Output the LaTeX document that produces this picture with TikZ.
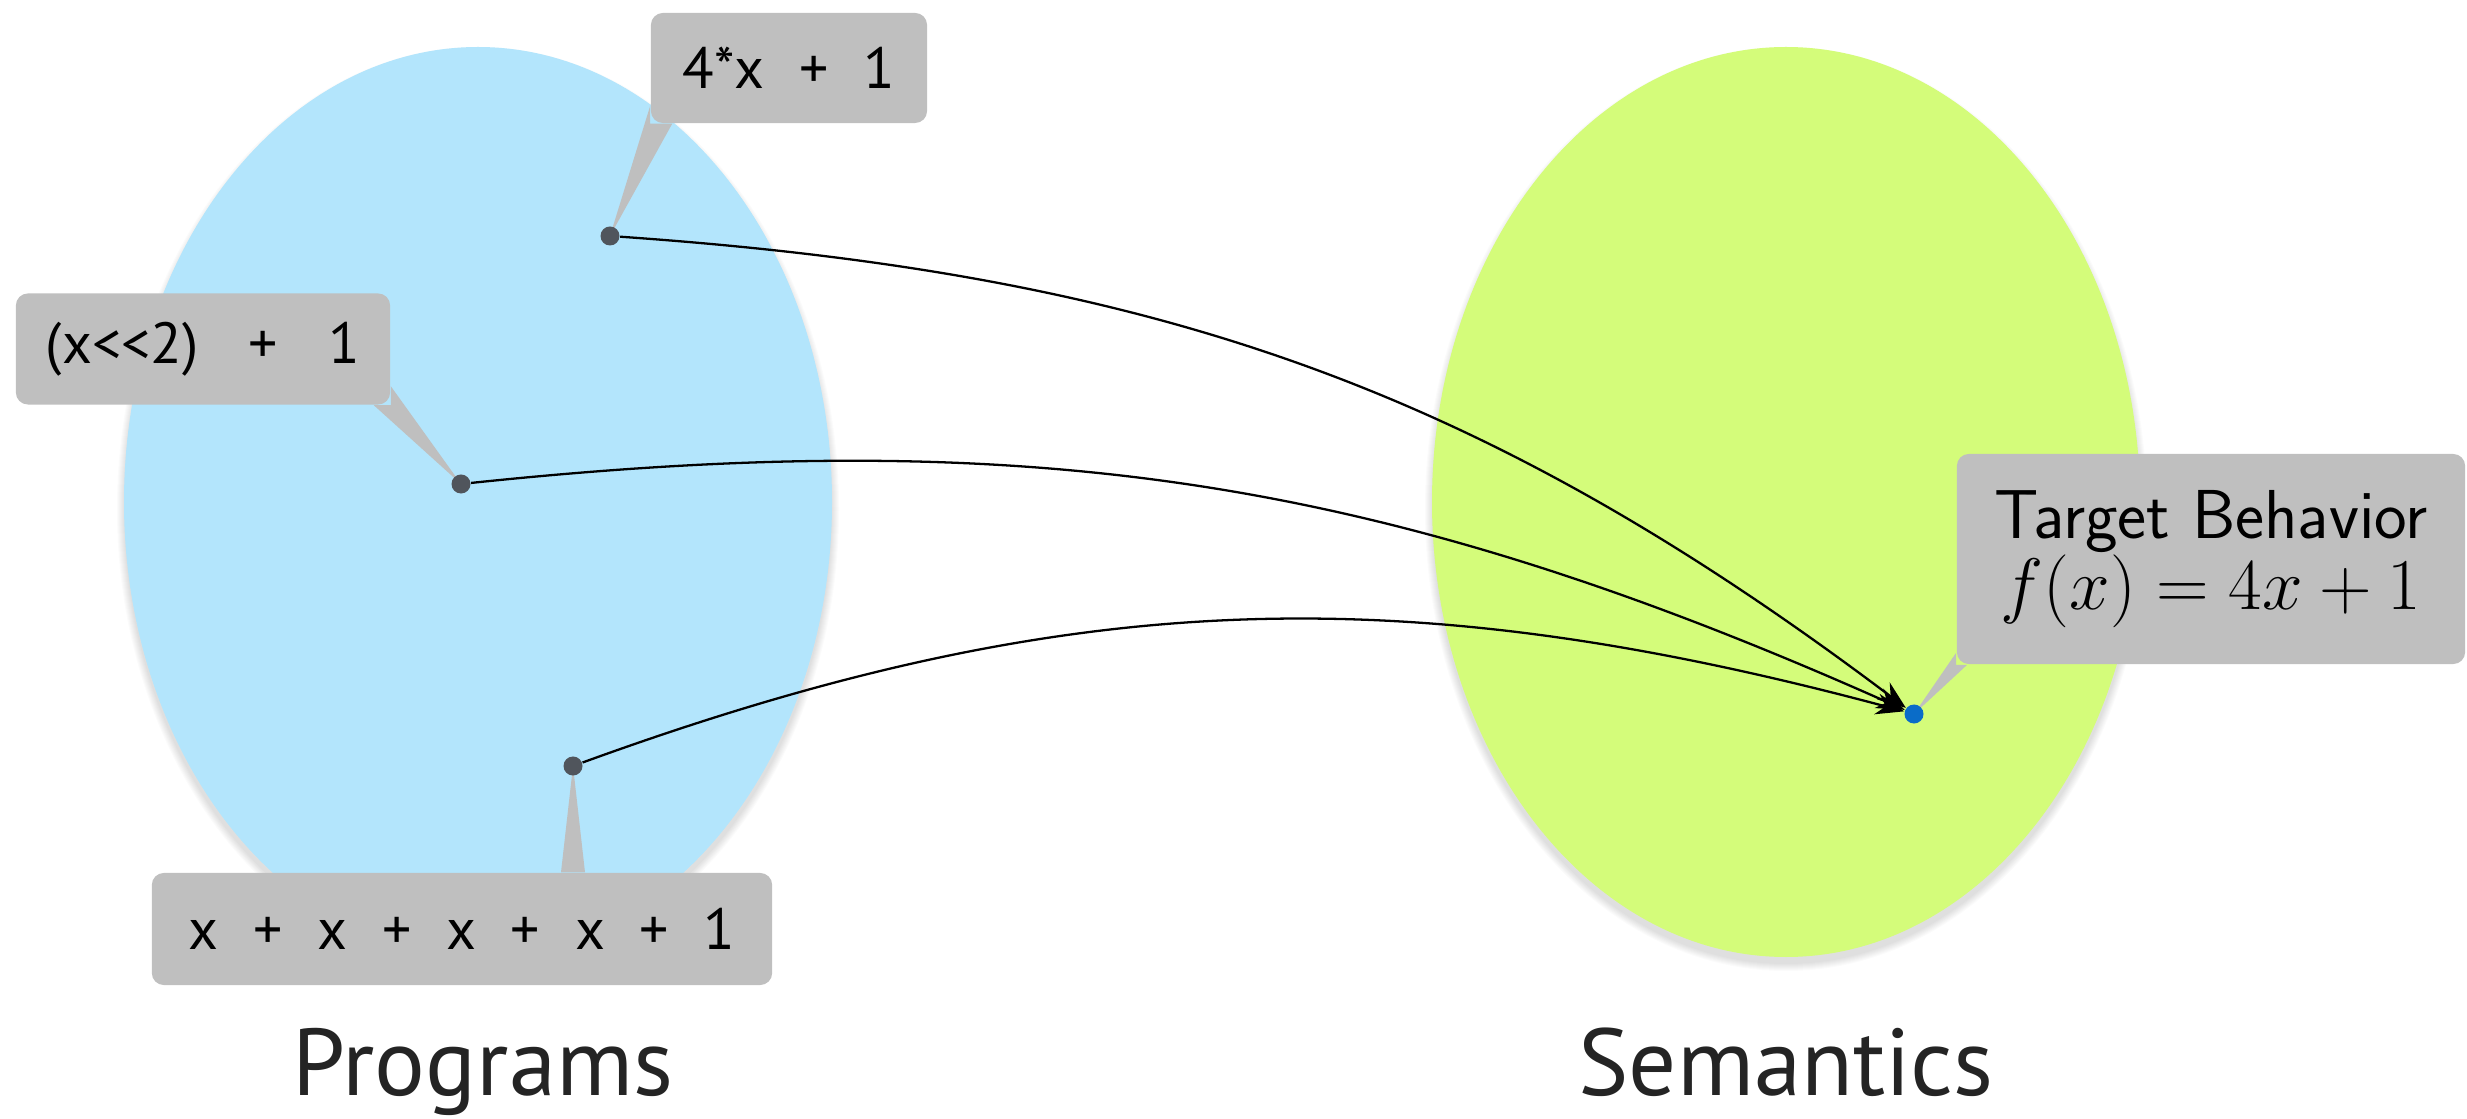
\documentclass[tikz,border=0pt]{standalone}
\usepackage{fontspec}
\newfontfamily\labelfont{PT Sans}
\usetikzlibrary{arrows.meta,calc}

\definecolor{progblue}{HTML}{B3E5FC}
\definecolor{semgreen}{HTML}{D4FC7A}
\definecolor{calloutgray}{HTML}{BFBFBF}
\definecolor{dotgray}{HTML}{50555C}
\definecolor{targetblue}{HTML}{0A6CC8}

\newcommand{\gap}{\hspace{0.6em}}

\tikzset{
  callout/.style={fill=calloutgray, rounded corners=0.12cm, inner sep=0pt,
    font=\labelfont\fontsize{16.5}{19}\selectfont},
  spot/.style={circle, fill=dotgray, inner sep=0pt, minimum size=0.19cm},
  link/.style={-{Stealth[length=8pt,width=6pt]}, line width=0.65pt},
  setlabel/.style={font=\labelfont\fontsize{27}{30}\selectfont, text=black!86, anchor=base}
}

\begin{document}
\begin{tikzpicture}[x=0.01cm,y=-0.01cm]
  \useasboundingbox (0,0) rectangle (2467,1119);

  % the two sets, each with a soft shadow
  \foreach \s in {1,...,8} {
    \fill[black,opacity=0.014] (478,509) ellipse [x radius=353+\s, y radius=454+\s];
    \fill[black,opacity=0.014] (1786,509) ellipse [x radius=353+\s, y radius=454+\s];
  }
  \fill[progblue] (478,502) ellipse [x radius=354, y radius=455];
  \fill[semgreen] (1786,502) ellipse [x radius=354, y radius=455];

  \coordinate (p4x) at (610,236);
  \coordinate (pshift) at (461,484);
  \coordinate (psum) at (573,766);
  \coordinate (ptarget) at (1914,714);

  % callouts
  \node[callout, minimum width=2.76cm, minimum height=1.10cm] (c4x) at (789,68) {4*x\gap+\gap1};
  \fill[calloutgray] (c4x.south west) -- ++(0,-18) -- (p4x) -- ($(c4x.south west)+(22,0)$) -- cycle;

  \node[callout, minimum width=3.74cm, minimum height=1.11cm] (cshift) at (203,349) {(x{<}{<}2)\gap\ +\gap\ 1};
  \fill[calloutgray] (cshift.south east) -- ++(0,-19) -- (pshift) -- ($(cshift.south east)+(-17,0)$) -- cycle;

  \node[callout, minimum width=6.20cm, minimum height=1.12cm] (csum) at (462,929) {x\gap+\gap x\gap+\gap x\gap+\gap x\gap+\gap1};
  \fill[calloutgray] ($(csum.north)+(99,0)$) -- (psum) -- ($(csum.north)+(123,0)$) -- cycle;

  \node[callout, minimum width=5.08cm, minimum height=2.10cm, align=center,
    font=\sffamily\fontsize{19.7}{22}\selectfont] (ctarget) at (2211,559)
    {Target Behavior\\[-2pt]{\fontsize{20}{22}\selectfont$f(x) = 4x + 1$}};
  \fill[calloutgray] (ctarget.south west) -- ++(0,-12) -- (ptarget) -- ($(ctarget.south west)+(11,0)$) -- cycle;

  % programs and the behavior they share
  \node[spot] (d4x) at (p4x) {};
  \node[spot] (dshift) at (pshift) {};
  \node[spot] (dsum) at (psum) {};
  \node[spot, fill=targetblue] (dtarget) at (ptarget) {};

  \draw[link] (d4x) to[out=-4, in=143] (dtarget);
  \draw[link] (dshift) to[out=6, in=156] (dtarget);
  \draw[link] (dsum) to[out=20, in=165] (dtarget);

  \node[setlabel] (lprog) at (483,1095) {Programs};
  \node[setlabel] (lsem) at (1786,1095) {Semantics};
\end{tikzpicture}
\end{document}
